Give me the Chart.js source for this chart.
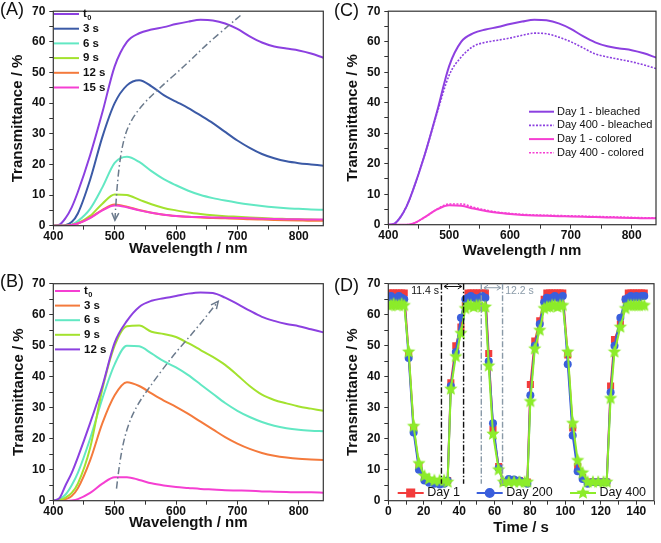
<!DOCTYPE html>
<html>
<head>
<meta charset="utf-8">
<script src="https://cdn.jsdelivr.net/npm/chart.js@4.4.1/dist/chart.umd.min.js"></script>
<style>
  body { margin: 0; background: #fff; width: 661px; height: 543px; position: relative; overflow: hidden; }
  canvas { position: absolute; }
  .tag { position: absolute; font: 18px "Liberation Sans", Arial, sans-serif; color: #111; line-height: 18px; }
</style>
</head>
<body>
<canvas id="chartA" width="330" height="270" style="left:0;top:0"></canvas>
<canvas id="chartB" width="330" height="273" style="left:0;top:270px"></canvas>
<canvas id="chartC" width="331" height="270" style="left:330px;top:0"></canvas>
<canvas id="chartD" width="331" height="273" style="left:330px;top:270px"></canvas>
<div class="tag" style="left:0;top:0">(A)</div>
<div class="tag" style="left:0;top:272px">(B)</div>
<div class="tag" style="left:334px;top:1px">(C)</div>
<div class="tag" style="left:334px;top:276px">(D)</div>
<script>
const FONT = '"Liberation Sans", Arial, sans-serif';

// wavelength grid (nm)
const wavelength = [400,410,420,430,440,460,480,500,520,540,560,580,600,620,640,660,680,700,720,740,760,780,800,820,840];

// (A) colouring
const labelsA = ['t_0', '3 s', '6 s', '9 s', '12 s', '15 s'];
const colorsA = ['#8c40e0', '#3b5aa6', '#62e8c3', '#a3e22e', '#f47a3c', '#f53fd2'];
const aT0  = [0,0.3,2.5,6,11,23,37,52,60,62.8,64,64.8,65.8,66.6,67.2,67,66,64.2,61.8,59.8,58.5,57.8,57.2,56.2,54.8];
const a3s  = [0,0,0.2,1.2,4,15,29,40,45.8,47.5,45.5,42.6,40.5,38.4,36,33.5,30.6,27.8,25.4,23.4,22,21,20.4,20,19.6];
const a6s  = [0,0,0,0.3,1.5,5.5,12.5,20.5,22.5,20.8,17.8,15.2,13.2,11.4,10,9,8.2,7.5,6.9,6.4,6,5.7,5.5,5.3,5.2];
const a9s  = [0,0,0,0.2,0.8,3.2,7.2,10.2,10,8.5,7,5.8,5,4.3,3.8,3.4,3.1,2.9,2.7,2.5,2.3,2.2,2.1,2,1.9];
const a12s = [0,0,0,0.2,0.7,2.6,5.2,6.9,6.2,5.1,4.2,3.6,3.2,2.9,2.7,2.5,2.4,2.3,2.1,2,1.9,1.8,1.7,1.6,1.6];
const a15s = [0,0,0,0.2,0.7,2.5,5,6.6,6,5,4.2,3.6,3.2,2.9,2.8,2.7,2.6,2.5,2.4,2.3,2.2,2.1,2.1,2,2];

// (B) bleaching
const labelsB = ['t_0', '3 s', '6 s', '9 s', '12 s'];
const colorsB = ['#f53fd2', '#f47a3c', '#62e8c3', '#a3e22e', '#8c40e0'];
const bT0  = [0,0,0,0.1,0.5,2.5,5.5,7.6,7.6,6.7,5.6,4.9,4.4,4.1,3.8,3.6,3.4,3.3,3.2,3,2.9,2.8,2.7,2.7,2.6];
const b3s  = [0,0.1,0.5,1.5,4,13,25,34,38.2,37,34.6,32.3,30.3,28,25.5,23,20.5,18.4,16.7,15.4,14.5,13.9,13.5,13.3,13.1];
const b6s  = [0,0.5,2,5,9,20,33,44,50,49.8,47.5,45,43,40.5,37.5,34.5,31.5,29,27,25.4,24.2,23.4,22.9,22.6,22.4];
const b9s  = [0,0.2,1,2.5,5.5,17,36,50,56.3,56.5,54.5,53.8,52.8,50.8,48.6,46.4,43.8,40.5,37,34.2,32.5,31.4,30.4,29.7,29];
const b12s = [0,0.8,5,9,14,25,37,51,58,62.5,64.5,65.3,66,66.8,67.2,67,65.5,63.5,61.3,59.3,58,57,56.3,55.3,54.3];

// (C) stability
const labelsC = ['Day 1 - bleached', 'Day 400 - bleached', 'Day 1 - colored', 'Day 400 - colored'];
const cDay1Bleached   = aT0;
const cDay400Bleached = [0,0.3,2.5,6,11,23,36.5,49,55,58.5,59.8,60.5,61.2,62.1,62.8,62.6,61.5,60,58,56,55,54.2,53.4,52.4,51.2];
const cDay1Colored    = [0,0,0,0,0.3,2.5,5,6.4,6.2,5.3,4.5,3.9,3.5,3.2,3,2.9,2.8,2.7,2.6,2.5,2.4,2.3,2.2,2.1,2.1];
const cDay400Colored  = [0,0,0,0,0.3,2.4,5.1,6.8,6.8,5.7,4.8,4.1,3.7,3.4,3.2,3.1,3,2.9,2.8,2.7,2.6,2.5,2.4,2.3,2.3];

// (D) cycling
const labelsD = ['Day 1', 'Day 200', 'Day 400'];
const timeD = [0,1.5,3,4.5,6,7.5,9, 11.5,14.3,17.3,20.4,23,26,29,31.5,33.5, 35.3,38.1,41,43.5,
  45,46.6,48.2,49.8,51.4,53,54.8, 56.7,59.1,62.3,65,68,71,74,77,78.5, 80.2,82.7,85.5,88,
  89.5,91,92.5,94,95.5,97,98.5, 101.3,104.1,106.9,109.7,112.5,115.5,118.5,121.5,123.3, 125.5,127.7,131,133.9,
  135.5,137,138.5,140,141.5,143,144.5];
const day1 = [67,67,67,67,67,67,67, 47.5,23.5,11,7,6.5,6,6,6,6.5, 38,50,56,63,
  67,67,67,67,67,67,67, 47.5,23,11,6,6.5,6.5,6.5,6,6, 37.5,51.5,58,65,
  67,67,67,67,67,67,67, 47,23.5,11,7.5,6,6,6,6,6, 37,52,57,65,
  67,67,67,67,67,67,67];
const day200 = [65.5,66,65.5,65,66,65.5,65, 46,22,10,6.5,5.8,5.5,5.2,5.5,6.5, 37,48,59,65,
  65.5,66,65.5,65,65.5,66,65.5, 45,25,10.5,6,7,6.8,6.5,6,5.5, 34,50,57,64,
  65.5,65,65.5,66,65.5,65,66, 44,21,9.5,7,5.5,6,6,6,6, 35,50,59,65,
  65.5,66,65.5,66,65.5,66,66];
const day400 = [63,63,63.5,63,63,63.5,63, 48,24,12,8,7,6.5,6.5,6.5,6, 36,46.5,54,62,
  63,63,62.5,63,63,62.5,62.5, 43.5,21.5,10,6,6,6,6,6,6, 32,49,55,62,
  62.5,62.5,63,63,62.5,63,63, 48,25,13,9,6,6,6,6,6, 33,48,56,62,
  63,63,63,63,63,63,63];

// guide arrows (data units)
const arrowA = [[500.4,1.8],[503,10.5],[507,19],[513,26.7],[522,32.7],[541,38.6],[568,44],[617,52.7],[650,59.2],[688,65.7],[708,69.1]];
const arrowB = [[503,3.9],[508.5,13.5],[519.4,23.2],[535.7,30.7],[562.8,38.3],[595.4,46.9],[633.4,55.5],[668.7,64.3]];
const markersD = [30, 42.5, 52.5, 64.5];
const markLabelsD = ['11.4 s', '12.2 s'];

const pairs = (xs, ys) => xs.map((x, i) => ({ x, y: ys[i] }));

const framePlugin = {
  id: 'frame',
  afterDatasetsDraw(chart) {
    const { left, top, right, bottom } = chart.chartArea;
    const c = chart.ctx;
    c.save();
    c.strokeStyle = '#333';
    c.lineWidth = 1.2;
    c.strokeRect(left, top, right - left, bottom - top);
    c.restore();
  }
};

function drawLabel(c, text, x, y, size) {
  const parts = text.split('_');
  c.fillText(parts[0], x, y);
  if (parts[1]) {
    const w = c.measureText(parts[0]).width;
    const f = c.font;
    c.font = c.font.replace(/[\d.]+px/, (size * 0.65) + 'px');
    c.fillText(parts[1], x + w + 0.5, y + size * 0.3);
    c.font = f;
  }
}

function inlineLegend(o) {
  return {
    id: 'inlineLegend',
    afterDraw(chart) {
      const c = chart.ctx;
      c.save();
      c.font = o.font;
      c.fillStyle = '#111';
      c.textBaseline = 'middle';
      chart.data.datasets.forEach((ds, i) => {
        const x = Array.isArray(o.x) ? o.x[i] : o.x;
        const y = o.y + (o.dy || 0) * i;
        c.strokeStyle = ds.borderColor;
        c.lineWidth = ds.borderWidth || 2;
        c.setLineDash(ds.borderDash || []);
        c.beginPath();
        c.moveTo(x, y);
        c.lineTo(x + o.len, y);
        c.stroke();
        c.setLineDash([]);
        if (o.markers) {
          c.fillStyle = ds.backgroundColor;
          Chart.helpers.drawPoint(c, { pointStyle: ds.pointStyle, radius: ds.pointRadius, borderWidth: 1 }, x + o.len / 2, y);
          c.fillStyle = '#111';
        }
        drawLabel(c, ds.label, x + o.len + o.gap, y, o.size);
      });
      c.restore();
    }
  };
}

function guideArrow(points, head, color) {
  return {
    id: 'guideArrow',
    afterDatasetsDraw(chart) {
      const xs = chart.scales.x, ys = chart.scales.y, c = chart.ctx;
      const p = points.map(([a, b]) => [xs.getPixelForValue(a), ys.getPixelForValue(b)]);
      c.save();
      c.strokeStyle = color;
      c.lineWidth = 1.5;
      c.setLineDash([7, 3, 1.5, 3]);
      c.beginPath();
      c.moveTo(p[0][0], p[0][1]);
      for (let i = 1; i < p.length - 1; i++) {
        const mx = (p[i][0] + p[i + 1][0]) / 2, my = (p[i][1] + p[i + 1][1]) / 2;
        c.quadraticCurveTo(p[i][0], p[i][1], mx, my);
      }
      c.lineTo(p[p.length - 1][0], p[p.length - 1][1]);
      c.stroke();
      c.setLineDash([]);
      const [tip, prev] = head === 'start' ? [p[0], p[1]] : [p[p.length - 1], p[p.length - 2]];
      const ang = Math.atan2(tip[1] - prev[1], tip[0] - prev[0]);
      c.beginPath();
      c.moveTo(tip[0] - 8 * Math.cos(ang - 0.45), tip[1] - 8 * Math.sin(ang - 0.45));
      c.lineTo(tip[0], tip[1]);
      c.lineTo(tip[0] - 8 * Math.cos(ang + 0.45), tip[1] - 8 * Math.sin(ang + 0.45));
      c.stroke();
      c.restore();
    }
  };
}

const cycleMarks = {
  id: 'cycleMarks',
  afterDatasetsDraw(chart) {
    const xs = chart.scales.x, ys = chart.scales.y, c = chart.ctx;
    const cols = ['#111', '#111', '#8a9aa8', '#8a9aa8'];
    c.save();
    c.lineWidth = 1.4;
    markersD.forEach((t, i) => {
      const x = xs.getPixelForValue(t);
      c.strokeStyle = cols[i];
      c.setLineDash([6, 2, 1.5, 2]);
      c.beginPath();
      c.moveTo(x, ys.getPixelForValue(70));
      c.lineTo(x, ys.getPixelForValue(5.5));
      c.stroke();
    });
    c.setLineDash([]);
    const dbl = (t0, t1, v, col) => {
      const x0 = xs.getPixelForValue(t0), x1 = xs.getPixelForValue(t1), y = ys.getPixelForValue(v);
      c.strokeStyle = col;
      c.lineWidth = 1;
      c.beginPath();
      c.moveTo(x0, y); c.lineTo(x1, y);
      c.moveTo(x0 + 4, y - 2.5); c.lineTo(x0, y); c.lineTo(x0 + 4, y + 2.5);
      c.moveTo(x1 - 4, y - 2.5); c.lineTo(x1, y); c.lineTo(x1 - 4, y + 2.5);
      c.stroke();
    };
    dbl(markersD[0] + 1.5, markersD[1] - 1, 69.1, '#111');
    dbl(markersD[2] + 1.5, markersD[3] - 1, 68.7, '#8a9aa8');
    c.font = '10.5px ' + FONT;
    c.textBaseline = 'middle';
    c.fillStyle = '#111';
    c.textAlign = 'right';
    c.fillText(markLabelsD[0], xs.getPixelForValue(28.6), ys.getPixelForValue(67.6));
    c.fillStyle = '#8a9aa8';
    c.textAlign = 'left';
    c.fillText(markLabelsD[1], xs.getPixelForValue(66), ys.getPixelForValue(67.6));
    c.restore();
  }
};

function axis(min, max, step, labelStep, title, size, titlePad, tickPad) {
  return {
    type: 'linear', min, max,
    border: { display: false },
    grid: { drawOnChartArea: false, drawTicks: true, tickLength: 4, color: '#333' },
    ticks: {
      stepSize: step, autoSkip: false, includeBounds: false, maxRotation: 0,
      color: '#111', padding: tickPad,
      font: { family: FONT, size: 12, weight: 'bold' },
      callback: v => (v % labelStep === 0 ? String(v) : '')
    },
    title: { display: true, text: title, color: '#111', padding: titlePad,
      font: { family: FONT, size: 15, weight: 'bold' } },
    afterFit: s => { if (s.isHorizontal()) s.height = size; else s.width = size; }
  };
}

function spectrum(id, sets, labels, colors, pad, yW, xH, yTitlePad, xTitlePad, legend, extra) {
  return new Chart(document.getElementById(id), {
    type: 'line',
    data: {
      datasets: sets.map((s, i) => ({
        label: labels[i], data: pairs(wavelength, s),
        borderColor: colors[i], borderWidth: 2, borderDash: [],
        pointRadius: 0, cubicInterpolationMode: 'monotone',
        order: sets.length - i
      }))
    },
    options: {
      responsive: false, animation: false,
      layout: { padding: pad },
      plugins: { legend: { display: false }, tooltip: { enabled: false } },
      scales: {
        x: axis(400, 840, 50, 100, 'Wavelength / nm', xH, { top: 0, bottom: xTitlePad }, 0),
        y: axis(0, 70, 5, 10, 'Transmittance / %', yW, { top: yTitlePad, bottom: 0 }, 4)
      }
    },
    plugins: [framePlugin, inlineLegend(legend)].concat(extra || [])
  });
}

spectrum('chartA', [aT0, a3s, a6s, a9s, a12s, a15s], labelsA, colorsA,
  { top: 10, right: 6.7, left: 0, bottom: 0 }, 53.3, 44.3, 9, 12,
  { x: 54, y: 14, dy: 14.7, len: 25, gap: 4, size: 11.5, font: 'bold 11.5px ' + FONT },
  [guideArrow(arrowA, 'start', '#6b7a8c')]);

spectrum('chartB', [bT0, b3s, b6s, b9s, b12s], labelsB, colorsB,
  { top: 13.7, right: 6.7, left: 0, bottom: 0 }, 53.3, 42.3, 9.8, 11,
  { x: 55, y: 21, dy: 14.6, len: 25, gap: 4, size: 11.5, font: 'bold 11.5px ' + FONT },
  [guideArrow(arrowB, 'end', '#6b7a8c')]);

const chartC = spectrum('chartC', [cDay1Bleached, cDay400Bleached, cDay1Colored, cDay400Colored], labelsC,
  ['#8c40e0', '#8c40e0', '#f53fd2', '#f53fd2'],
  { top: 9, right: 5, left: 0, bottom: 0 }, 58.3, 45.3, 14, 10.5,
  { x: 199, y: 111.7, dy: 13.7, len: 25, gap: 3, size: 11, font: '11px ' + FONT });
[1, 3].forEach(i => { chartC.data.datasets[i].borderDash = [2, 1.5]; chartC.data.datasets[i].borderWidth = 1.6; });
chartC.update();

function starImage(color, r) {
  const cv = document.createElement('canvas');
  cv.width = cv.height = Math.ceil(r * 2 + 2);
  const g = cv.getContext('2d');
  const cx = cv.width / 2, cy = cv.height / 2;
  g.beginPath();
  for (let k = 0; k < 10; k++) {
    const rr = k % 2 ? r * 0.45 : r;
    const a = -Math.PI / 2 + k * Math.PI / 5;
    g.lineTo(cx + rr * Math.cos(a), cy + rr * Math.sin(a));
  }
  g.closePath();
  g.fillStyle = color;
  g.fill();
  return cv;
}

const colorsD = ['#f23c3c', '#3a5fdc', '#8cec2a'];
new Chart(document.getElementById('chartD'), {
  type: 'line',
  data: {
    datasets: [day1, day200, day400].map((s, i) => ({
      label: labelsD[i], data: pairs(timeD, s),
      borderColor: colorsD[i], backgroundColor: colorsD[i], borderWidth: 2,
      pointStyle: ['rect', 'circle', starImage(colorsD[2], 7)][i],
      pointRadius: [5, 4, 7][i], pointBorderWidth: 0,
      tension: 0, order: 3 - i
    }))
  },
  options: {
    responsive: false, animation: false,
    layout: { padding: { top: 13.7, right: 5, left: 0, bottom: 0 } },
    plugins: { legend: { display: false }, tooltip: { enabled: false } },
    scales: {
      x: axis(0, 150, 10, 20, 'Time / s', 42.3, { top: 0, bottom: 6.5 }, 0),
      y: axis(0, 70, 5, 10, 'Transmittance / %', 58.3, { top: 14.3, bottom: 0 }, 4)
    }
  },
  plugins: [framePlugin, cycleMarks,
    inlineLegend({ x: [67.7, 146.7, 240], y: 223, len: 26, gap: 3.5, size: 12.5, markers: true, font: '12.5px ' + FONT })]
});
</script>
</body>
</html>
